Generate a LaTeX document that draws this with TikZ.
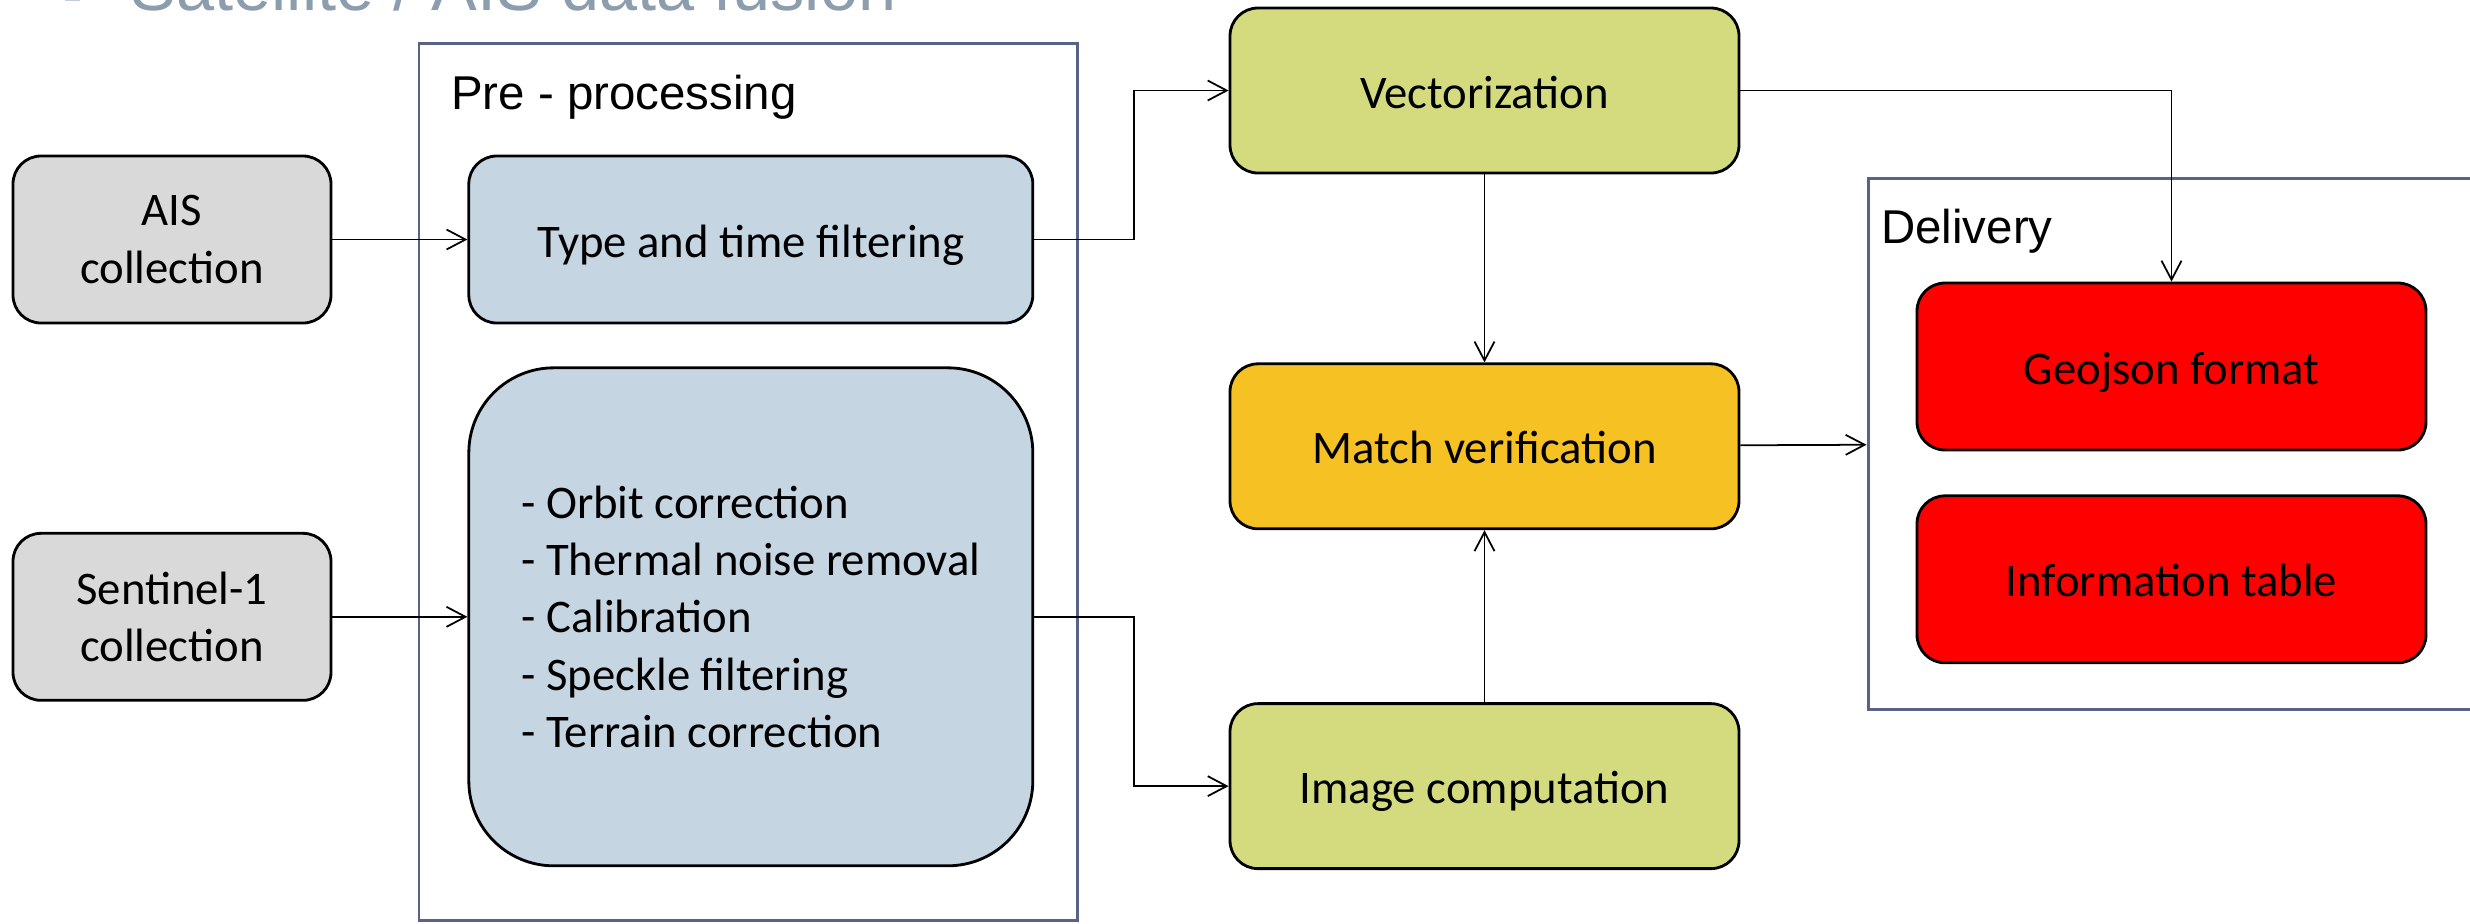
\documentclass[tikz,border=0pt]{standalone}
\usepackage{fontspec}
\setmainfont{Carlito}
\newfontfamily\labelfont{Liberation Sans}
\usetikzlibrary{arrows.meta,positioning}
\definecolor{srcgray}{HTML}{D9D9D9}
\definecolor{preblue}{HTML}{C5D5E2}
\definecolor{stagegreen}{HTML}{D4DB7F}
\definecolor{matchorange}{HTML}{F6C123}
\definecolor{outred}{HTML}{FF0000}
\definecolor{frameslate}{HTML}{5A6386}
\definecolor{titlegray}{HTML}{8C9DAE}
\definecolor{bulletgray}{HTML}{C3CED8}
\tikzset{stage/.style={rectangle, rounded corners=0.28cm, draw=black, line width=0.8pt, align=center, inner sep=0pt, minimum width=5.09cm, minimum height=1.65cm, text height=12.5pt, text depth=2.5pt, font=\fontsize{13.3}{16.3}\selectfont}, source/.style={stage, fill=srcgray, minimum width=3.18cm, minimum height=1.67cm, text height=, text depth=}, prestep/.style={stage, fill=preblue, minimum width=5.64cm, minimum height=1.67cm}, fusion/.style={stage, fill=stagegreen}, output/.style={stage, fill=outred, minimum height=1.67cm}, group/.style={rectangle, draw=frameslate, line width=0.85pt, inner sep=0pt}, grouplabel/.style={anchor=north west, inner sep=0pt, font=\labelfont\fontsize{13.5}{16}\selectfont}, arrow/.style={-{Straight Barb[length=0.19cm, width=0.2cm]}, line width=0.5pt, draw=black}}

\begin{document}
\begin{tikzpicture}[node distance=0.42cm and 1.35cm]
\useasboundingbox (0,0) rectangle (24.7,-9.23);
% slide title, cut by the top edge
\node[rectangle, fill=bulletgray, inner sep=0pt, minimum size=0.15cm] (bullet) at (0.725,0.065) {};
\node[anchor=base west, inner sep=0pt, text=titlegray, font=\labelfont\fontsize{19.5}{22}\selectfont] (title) at (1.30,-0.10) {Satellite / AIS data fusion};
% frames
\node[group, minimum width=6.58cm, minimum height=8.77cm] (pre) at (7.48,-4.815) {};
\node[group, minimum width=6.12cm, minimum height=5.31cm] (delivery) at (21.74,-4.435) {};
\node[grouplabel] (prelabel) at ([xshift=0.33cm, yshift=-0.33cm]pre.north west) {Pre - processing};
\node[grouplabel] (deliverylabel) at ([xshift=0.14cm, yshift=-0.32cm]delivery.north west) {Delivery};
% inputs and pre-processing
\node[source] (ais) at (1.72,-2.395) {AIS\\collection};
\node[prestep, right=of ais] (typefilter) {Type and time filtering};
\node[prestep, below=of typefilter, minimum height=4.98cm, rounded corners=0.85cm, align=left, text height=, text depth=] (sarsteps) {- Orbit correction\\- Thermal noise removal\\- Calibration\\- Speckle filtering\\- Terrain correction};
\node[source, left=of sarsteps] (sentinel) {Sentinel-1\\collection};
% fusion
\node[fusion] (vector) at (14.845,-0.905) {Vectorization};
\node[stage, fill=matchorange, below=1.88cm of vector] (match) {Match verification};
\node[fusion, below=1.72cm of match] (imagecomp) {Image computation};
% outputs
\node[output] (geojson) at (21.715,-3.665) {Geojson format};
\node[output, below=0.43cm of geojson] (infotable) {Information table};

\draw[arrow] (ais) -- (typefilter);
\draw[arrow] (sentinel) -- (sarsteps);
\draw[arrow] (typefilter.east) -- ++(1,0) |- (vector.west);
\draw[arrow] (sarsteps.east) -- ++(1,0) |- (imagecomp.west);
\draw[arrow] (vector) -- (match);
\draw[arrow] (imagecomp) -- (match);
\draw[arrow] (match) -- (delivery);
\draw[arrow] (vector.east) -| (geojson.north);
\end{tikzpicture}
\end{document}
